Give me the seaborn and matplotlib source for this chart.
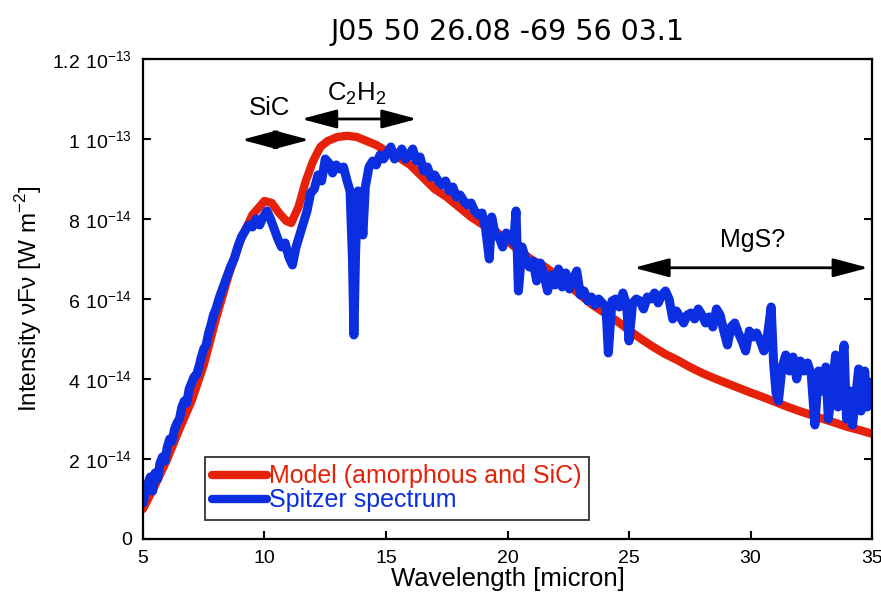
import numpy as np
import pandas as pd
import matplotlib
matplotlib.use("Agg")
import matplotlib.pyplot as plt
import seaborn as sns

# Spitzer spectrum, wavelength [micron] and flux [1e-14 W m^-2]
spitzer_wl = [
    5.0, 5.15, 5.3, 5.4, 5.5, 5.6, 5.7, 5.8, 5.9, 6.0, 6.1, 6.2, 6.3, 6.4, 6.5,
    6.6, 6.7, 6.8, 6.9, 7.0, 7.1, 7.2, 7.3, 7.4, 7.5, 7.6, 7.7, 7.8, 7.9, 8.0,
    8.15, 8.3, 8.45, 8.6, 8.75, 8.9, 9.05, 9.2, 9.35, 9.5, 9.65, 9.8, 9.95, 10.1,
    10.25, 10.4, 10.55, 10.7, 10.85, 11.0, 11.15, 11.3, 11.45, 11.6, 11.75, 11.9,
    12.05, 12.2, 12.35, 12.5, 12.65, 12.8, 12.95, 13.1, 13.25, 13.4, 13.52, 13.62,
    13.68, 13.75, 13.85, 13.95, 14.05, 14.15, 14.3, 14.45, 14.6, 14.75, 14.9,
    15.05, 15.2, 15.35, 15.5, 15.65, 15.8, 15.95, 16.1, 16.25, 16.4, 16.55, 16.7,
    16.85, 17.0, 17.15, 17.3, 17.45, 17.6, 17.75, 17.9, 18.05, 18.2, 18.35, 18.5,
    18.65, 18.8, 18.95, 19.1, 19.25, 19.35, 19.5, 19.65, 19.8, 19.95, 20.1, 20.25,
    20.35, 20.45, 20.6, 20.75, 20.9, 21.05, 21.2, 21.35, 21.5, 21.65, 21.8, 21.95,
    22.1, 22.25, 22.4, 22.55, 22.7, 22.85, 23.0, 23.15, 23.3, 23.45, 23.6, 23.75,
    23.9, 24.05, 24.15, 24.3, 24.45, 24.6, 24.75, 24.9, 25.0, 25.15, 25.3, 25.45,
    25.6, 25.75, 25.9, 26.05, 26.2, 26.35, 26.5, 26.65, 26.8, 26.95, 27.1, 27.25,
    27.4, 27.55, 27.7, 27.85, 28.0, 28.15, 28.3, 28.45, 28.6, 28.75, 28.9, 29.05,
    29.2, 29.35, 29.5, 29.65, 29.8, 29.95, 30.1, 30.25, 30.4, 30.55, 30.7, 30.85,
    30.95, 31.05, 31.15, 31.3, 31.45, 31.6, 31.75, 31.9, 32.05, 32.2, 32.35, 32.5,
    32.65, 32.8, 32.95, 33.1, 33.2, 33.35, 33.5, 33.6, 33.75, 33.85, 33.95, 34.1,
    34.2, 34.3, 34.45, 34.55, 34.7, 34.8, 34.9, 35.0,
]
spitzer_flux = [
    0.9, 1.3, 1.55, 1.2, 1.65, 1.5, 1.9, 2.05, 1.95, 2.3, 2.5, 2.45, 2.75, 2.9, 3.0,
    3.3, 3.45, 3.4, 3.75, 3.9, 4.05, 4.1, 4.3, 4.55, 4.75, 4.85, 5.15, 5.35, 5.6, 5.75,
    6.05, 6.3, 6.55, 6.8, 7.0, 7.3, 7.55, 7.7, 7.85, 7.8, 8.0, 7.85, 8.05, 8.2,
    8.0, 7.75, 7.5, 7.3, 7.4, 7.05, 6.85, 7.3, 7.6, 7.9, 8.2, 8.65,
    8.75, 9.1, 8.95, 9.5, 9.4, 9.15, 9.35, 9.25, 9.3, 8.95, 8.7, 7.0,
    5.1, 7.2, 8.7, 8.4, 7.6, 8.8, 9.3, 9.45, 9.35, 9.6, 9.5,
    9.65, 9.8, 9.5, 9.6, 9.75, 9.5, 9.6, 9.75, 9.45, 9.55, 9.2, 9.3,
    9.05, 9.1, 8.95, 8.85, 8.95, 8.7, 8.8, 8.55, 8.6, 8.45, 8.35, 8.4,
    8.2, 8.1, 8.15, 7.75, 7.0, 8.05, 7.6, 7.55, 7.3, 7.65, 7.55, 7.4,
    8.2, 6.2, 7.3, 7.0, 6.8, 6.95, 6.45, 6.9, 6.6, 6.2, 6.6, 6.35,
    6.75, 6.3, 6.65, 6.25, 6.5, 6.7, 6.1, 6.2, 5.95, 6.05, 5.85, 6.0,
    5.9, 5.8, 4.65, 5.95, 6.0, 5.8, 6.15, 5.85, 4.95, 5.9, 6.0, 5.95,
    5.75, 6.05, 6.0, 6.15, 5.9, 6.1, 6.2, 6.0, 5.5, 5.7, 5.55, 5.4,
    5.6, 5.65, 5.5, 5.75, 5.6, 5.4, 5.55, 5.3, 5.75, 5.6, 5.2, 4.85,
    5.3, 5.4, 5.15, 4.95, 4.7, 5.2, 5.05, 5.15, 4.95, 4.7, 5.1, 5.8,
    4.4, 3.65, 3.45, 4.3, 4.6, 4.2, 4.55, 4.0, 4.45, 4.2, 4.4, 4.1,
    2.85, 4.2, 3.7, 4.3, 3.0, 3.7, 4.6, 3.3, 4.3, 4.85, 3.0, 3.7,
    2.85, 3.4, 4.25, 3.2, 4.2, 3.3, 3.9, 3.5,
]

# model (amorphous carbon + SiC)
model_wl = [
    5.0, 5.5, 6.0, 6.5, 7.0, 7.5, 8.0, 8.5, 9.0, 9.5, 10.0, 10.3, 10.6, 10.9,
    11.1, 11.4, 11.7, 12.0, 12.3, 12.6, 13.0, 13.4, 13.8, 14.2, 14.6, 15.0, 15.5,
    16.0, 16.5, 17.0, 17.5, 18.0, 18.5, 19.0, 19.5, 20.0, 20.5, 21.0, 21.5, 22.0,
    22.5, 23.0, 23.5, 24.0, 24.5, 25.0, 25.5, 26.0, 26.5, 27.0, 27.5, 28.0, 28.5,
    29.0, 29.5, 30.0, 30.5, 31.0, 31.5, 32.0, 32.5, 33.0, 33.5, 34.0, 34.5, 35.0,
]
model_flux = [
    0.75, 1.35, 2.0, 2.75, 3.45, 4.35, 5.5, 6.55, 7.45, 8.1, 8.45, 8.4, 8.15, 7.95,
    7.9, 8.3, 8.95, 9.45, 9.8, 9.95, 10.05, 10.08, 10.05, 9.95, 9.85, 9.7, 9.55,
    9.35, 9.05, 8.75, 8.55, 8.3, 8.05, 7.85, 7.7, 7.45, 7.2, 6.98, 6.82, 6.6,
    6.35, 6.1, 5.85, 5.65, 5.45, 5.22, 5.0, 4.8, 4.62, 4.47, 4.3, 4.15, 4.02,
    3.9, 3.78, 3.66, 3.55, 3.43, 3.31, 3.2, 3.1, 3.0, 2.9, 2.8, 2.72, 2.63,
]

ytick_vals = [0, 2e-14, 4e-14, 6e-14, 8e-14, 1e-13, 1.2e-13]
ytick_labels = ["0", r"$\mathregular{2\ 10^{-14}}$", r"$\mathregular{4\ 10^{-14}}$",
                r"$\mathregular{6\ 10^{-14}}$", r"$\mathregular{8\ 10^{-14}}$",
                r"$\mathregular{1\ 10^{-13}}$", r"$\mathregular{1.2\ 10^{-13}}$"]

RED = "#e52209"
BLUE = "#0a2ee0"

sns.set_style("ticks")
plt.rcParams["font.family"] = ["Liberation Sans", "DejaVu Sans"]
plt.rcParams["mathtext.fontset"] = "custom"
plt.rcParams["mathtext.rm"] = "Liberation Sans"
plt.rcParams["text.color"] = "black"
plt.rcParams["axes.labelcolor"] = "black"
plt.rcParams["xtick.color"] = "black"
plt.rcParams["ytick.color"] = "black"

model_df = pd.DataFrame({"wl": model_wl, "flux": np.array(model_flux) * 1e-14})
spitzer_df = pd.DataFrame({"wl": spitzer_wl, "flux": np.array(spitzer_flux) * 1e-14})

fig, ax = plt.subplots(figsize=(8.81, 6.0), dpi=100)
fig.subplots_adjust(left=0.1623, right=0.9898, bottom=0.1017, top=0.9017)

sns.lineplot(data=model_df, x="wl", y="flux", ax=ax, color=RED, lw=6,
             sort=False, estimator=None, label="Model (amorphous and SiC)")
sns.lineplot(data=spitzer_df, x="wl", y="flux", ax=ax, color=BLUE, lw=6.5,
             sort=False, estimator=None, label="Spitzer spectrum")

ax.set_xlim(5, 35)
ax.set_ylim(0, 1.2e-13)
ax.set_xticks([5, 10, 15, 20, 25, 30, 35])
ax.set_yticks(ytick_vals)
ax.set_yticklabels(ytick_labels)
ax.tick_params(axis="both", direction="in", length=6, width=1.5, labelsize=14, pad=8)
ax.tick_params(axis="y", right=True)
for s in ax.spines.values():
    s.set_linewidth(1.6)
    s.set_color("black")

ax.set_xlabel("Wavelength [micron]", fontsize=18.5, labelpad=0)
ax.set_ylabel(r"Intensity νFν [W m$^{\mathregular{-2}}$]", fontsize=17.5, labelpad=6)
ax.set_title("J05 50 26.08 -69 56 03.1", fontsize=20.5, family="DejaVu Sans", pad=14)

# feature annotations
arrow = dict(arrowstyle="<|-|>,head_length=1.2,head_width=0.32", color="black",
             lw=2.0, mutation_scale=18, shrinkA=0, shrinkB=0)
ax.annotate("", xy=(9.06, 9.98e-14), xytext=(11.85, 9.98e-14), arrowprops=arrow)
ax.annotate("", xy=(11.52, 1.05e-13), xytext=(16.28, 1.05e-13), arrowprops=arrow)
ax.annotate("", xy=(25.2, 6.78e-14), xytext=(34.85, 6.78e-14), arrowprops=arrow)
ax.text(10.2, 1.078e-13, "SiC", fontsize=18.5, ha="center", va="center")
ax.text(13.8, 1.112e-13, r"C$_{\mathregular{2}}$H$_{\mathregular{2}}$", fontsize=18.5,
        ha="center", va="center")
ax.text(30.1, 7.48e-14, "MgS?", fontsize=18, ha="center", va="center")

leg = ax.legend(loc="lower left", bbox_to_anchor=(0.085, 0.04), fontsize=18,
                frameon=True, fancybox=False, handlelength=2.2, handletextpad=0.05,
                labelspacing=0.0, borderpad=0.3, borderaxespad=0)
leg.get_frame().set_edgecolor("black")
leg.get_frame().set_linewidth(1.3)
for line in leg.get_lines():
    line.set_linewidth(6)
for txt, c in zip(leg.get_texts(), [RED, BLUE]):
    txt.set_color(c)

plt.savefig("out.png", dpi=100)
